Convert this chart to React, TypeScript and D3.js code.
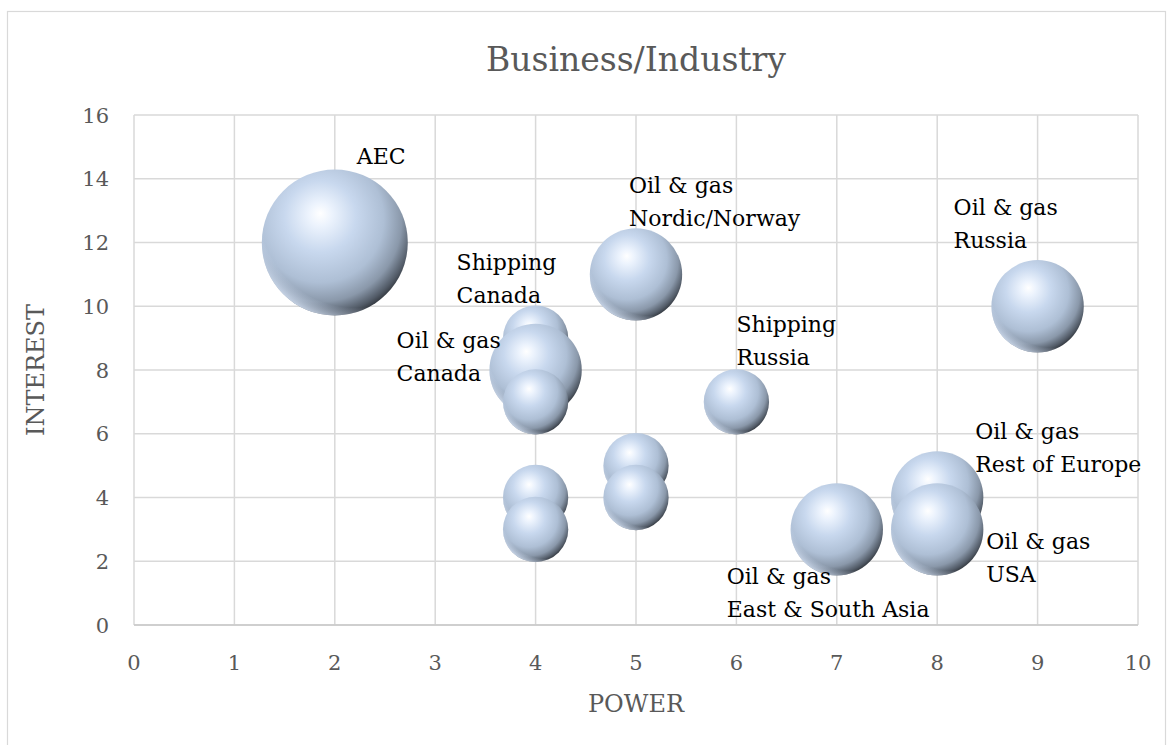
import React from "react";
import * as d3 from "d3";

// Stakeholder bubbles: power (x), interest (y), relative weight (bubble area)
const names: string[] = [
  "AEC",
  "Oil & gas\nNordic/Norway",
  "Oil & gas\nRussia",
  "Shipping\nCanada",
  "Oil & gas\nCanada",
  "",
  "Shipping\nRussia",
  "",
  "",
  "",
  "Oil & gas\nRest of Europe",
  "",
  "Oil & gas\nEast & South Asia",
  "Oil & gas\nUSA",
];
const power: number[] = [2, 5, 9, 4, 4, 4, 6, 5, 4, 5, 8, 4, 7, 8];
const interest: number[] = [12, 11, 10, 9, 8, 7, 7, 5, 4, 4, 4, 3, 3, 3];
const weight: number[] = [5, 2, 2, 1, 2, 1, 1, 1, 1, 1, 2, 1, 2, 2];

// Hand-placed label offsets (px from bubble centre, first line baseline)
const labelOffsets: [number, number][] = [
  [22, -79],
  [-7, -81],
  [-84, -91],
  [-79, -68],
  [-139, -22],
  [0, 0],
  [0, -70],
  [0, 0],
  [0, 0],
  [0, 0],
  [38, -59],
  [0, 0],
  [-110, 55],
  [49, 20],
];

const xTicks: number[] = [0, 1, 2, 3, 4, 5, 6, 7, 8, 9, 10];
const yTicks: number[] = [0, 2, 4, 6, 8, 10, 12, 14, 16];

const W = 1174;
const H = 745;
const plot = { left: 134, right: 1138, top: 115, bottom: 625 };
const FONT = "'DejaVu Serif', serif";

export default function App() {
  const x = d3.scaleLinear().domain([0, 10]).range([plot.left, plot.right]);
  const y = d3.scaleLinear().domain([0, 16]).range([plot.bottom, plot.top]);
  const r = d3.scaleSqrt().domain([0, 5]).range([0, 73]);

  const points = names.map((name, i) => ({
    name,
    px: power[i],
    py: interest[i],
    w: weight[i],
    off: labelOffsets[i],
  }));

  return (
    <svg
      width={W}
      height={H}
      viewBox={`0 0 ${W} ${H}`}
      style={{ position: "absolute", left: 0, top: 0, background: "#fff" }}
    >
      <defs>
        <radialGradient id="sphere" cx="0.4" cy="0.36" r="0.68" fx="0.4" fy="0.3">
          <stop offset="0" stopColor="#ffffff" />
          <stop offset="0.12" stopColor="#ecf3fd" />
          <stop offset="0.36" stopColor="#c8d8ee" />
          <stop offset="0.64" stopColor="#aebfd5" />
          <stop offset="0.82" stopColor="#8a98aa" />
          <stop offset="0.94" stopColor="#525b67" />
          <stop offset="1" stopColor="#2f343b" />
        </radialGradient>
        <radialGradient id="rim" cx="0.64" cy="0.3" r="0.76">
          <stop offset="0.85" stopColor="#cbd9ee" stopOpacity="0" />
          <stop offset="1" stopColor="#d6e3f5" stopOpacity="0.95" />
        </radialGradient>
      </defs>

      {/* chart frame */}
      <rect x={7.5} y={11.5} width={1158} height={760} fill="#fff" stroke="#d9d9d9" strokeWidth={1.2} />

      {/* title */}
      <text x={636} y={71} textAnchor="middle" fontFamily={FONT} fontSize={33} fill="#595959">
        Business/Industry
      </text>

      {/* gridlines */}
      {xTicks.map((t) => (
        <line key={"gx" + t} x1={x(t)} x2={x(t)} y1={plot.top} y2={plot.bottom} stroke="#d9d9d9" strokeWidth={1.5} />
      ))}
      {yTicks.map((t) => (
        <line key={"gy" + t} x1={plot.left} x2={plot.right} y1={y(t)} y2={y(t)} stroke="#d9d9d9" strokeWidth={1.5} />
      ))}
      <line x1={plot.left} x2={plot.right} y1={y(0)} y2={y(0)} stroke="#c8c8c8" strokeWidth={1.5} />

      {/* tick labels */}
      {yTicks.map((t) => (
        <text key={"ty" + t} x={109} y={y(t)} dy="0.36em" textAnchor="end" fontFamily={FONT} fontSize={21} fill="#595959">
          {t}
        </text>
      ))}
      {xTicks.map((t) => (
        <text key={"tx" + t} x={x(t)} y={662} dy="0.36em" textAnchor="middle" fontFamily={FONT} fontSize={21} fill="#595959">
          {t}
        </text>
      ))}

      {/* axis titles */}
      <text x={636} y={703} dy="0.36em" textAnchor="middle" fontFamily={FONT} fontSize={24} fill="#595959">
        POWER
      </text>
      <text
        transform={`translate(35, ${(plot.top + plot.bottom) / 2}) rotate(-90)`}
        dy="0.36em"
        textAnchor="middle"
        fontFamily={FONT}
        fontSize={24}
        fill="#595959"
      >
        INTEREST
      </text>

      {/* bubbles */}
      {points.map((p, i) => (
        <g key={"b" + i}>
          <circle cx={x(p.px)} cy={y(p.py)} r={r(p.w)} fill="url(#sphere)" />
          <circle cx={x(p.px)} cy={y(p.py)} r={r(p.w)} fill="url(#rim)" />
        </g>
      ))}

      {/* data labels */}
      {points.map((p, i) =>
        p.name ? (
          <text
            key={"l" + i}
            x={x(p.px) + p.off[0]}
            y={y(p.py) + p.off[1]}
            fontFamily={FONT}
            fontSize={22}
            fill="#000"
          >
            {p.name.split("\n").map((line, j) => (
              <tspan key={j} x={x(p.px) + p.off[0]} dy={j === 0 ? 0 : 33}>
                {line}
              </tspan>
            ))}
          </text>
        ) : null
      )}
    </svg>
  );
}
